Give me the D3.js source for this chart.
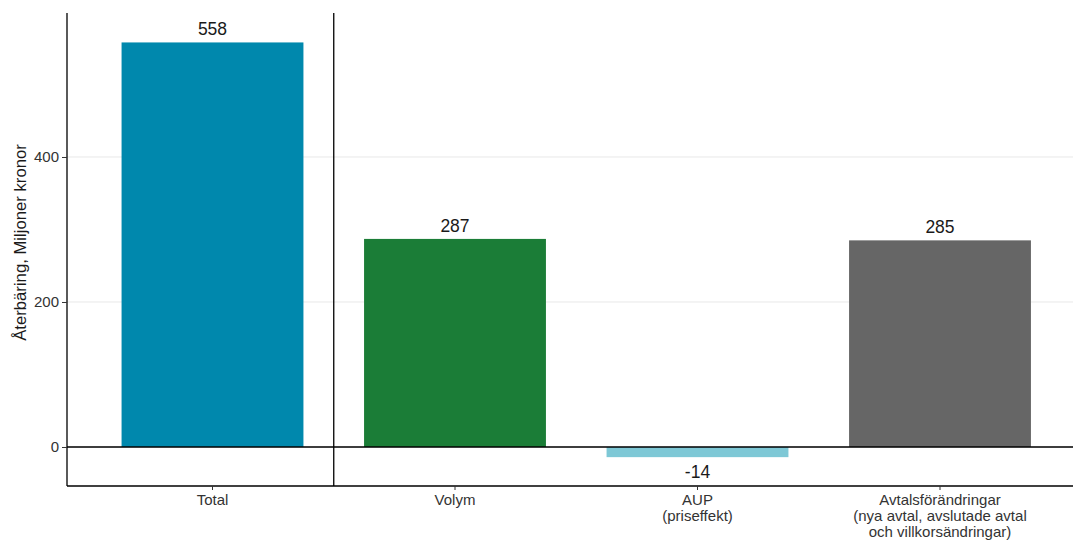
<!DOCTYPE html>
<html><head><meta charset="utf-8">
<script src="https://cdn.jsdelivr.net/npm/d3@7"></script>
<style>body{margin:0;background:#fff}svg{display:block;font-family:"Liberation Sans",Arial,sans-serif}</style>
</head><body>
<svg id="c" width="1073" height="540"></svg>
<script>
const categories = ["Total", "Volym", "AUP", "Avtals"];
const catLabels = [["Total"], ["Volym"], ["AUP", "(priseffekt)"], ["Avtalsförändringar", "(nya avtal, avslutade avtal", "och villkorsändringar)"]];
const values = [558, 287, -14, 285];
const colors = ["#0088AD", "#1B7D37", "#7EC8D6", "#666666"];
const yTicks = [0, 200, 400];
const yTitle = "Återbäring, Miljoner kronor";

const svg = d3.select("#c");
const pLeft = 67, pTop = 13, pBottom = 486, rightExt = 1085.5;
const x = d3.scaleBand().domain(categories).range([pLeft, rightExt]).paddingInner(0.25).paddingOuter(0.225);
const y = d3.scaleLinear().domain([-53.8, 598.6]).range([pBottom, pTop]);

// gridlines
svg.append("g").selectAll("line").data(yTicks).join("line")
  .attr("x1", pLeft).attr("x2", 1073).attr("y1", d => y(d)).attr("y2", d => y(d))
  .attr("stroke", "#e8e8e8").attr("stroke-width", 1);

// bars
svg.append("g").selectAll("rect").data(values).join("rect")
  .attr("x", (d, i) => x(categories[i]))
  .attr("width", x.bandwidth())
  .attr("y", d => y(Math.max(0, d)))
  .attr("height", d => Math.abs(y(d) - y(0)))
  .attr("fill", (d, i) => colors[i]);

// value labels
svg.append("g").selectAll("text").data(values).join("text")
  .attr("x", (d, i) => x(categories[i]) + x.bandwidth() / 2)
  .attr("y", d => d >= 0 ? y(d) - 7 : y(d) + 21)
  .attr("text-anchor", "middle").attr("font-size", 17.5).attr("fill", "#1a1a1a")
  .text(d => d);

// zero line
svg.append("line").attr("x1", pLeft).attr("x2", 1073).attr("y1", y(0)).attr("y2", y(0))
  .attr("stroke", "#000").attr("stroke-width", 1.3);

// separator line
const sep = (x(categories[0]) + x(categories[1]) + x.bandwidth()) / 2;
svg.append("line").attr("x1", sep).attr("x2", sep).attr("y1", pTop).attr("y2", pBottom)
  .attr("stroke", "#000").attr("stroke-width", 1.3);

// y axis
const ya = svg.append("g").attr("transform", `translate(${pLeft},0)`)
  .call(d3.axisLeft(y).tickValues(yTicks).tickSize(5).tickSizeOuter(0));
ya.select(".domain").attr("stroke", "#000").attr("stroke-width", 1.3).attr("d", `M0,${pTop}V${pBottom}`);
ya.selectAll(".tick line").attr("stroke", "#333");
ya.selectAll(".tick text").attr("font-size", 15).attr("fill", "#333").attr("font-family", "Liberation Sans, Arial, sans-serif").attr("x", -8);

// x axis
const xa = svg.append("g").attr("transform", `translate(0,${pBottom})`)
  .call(d3.axisBottom(x).tickSize(4).tickSizeOuter(0).tickFormat(""));
xa.select(".domain").attr("stroke", "#000").attr("stroke-width", 1.3).attr("d", `M${pLeft},0H1073`);
xa.selectAll(".tick line").attr("stroke", "#333");
xa.selectAll(".tick").each(function(d, i) {
  const t = d3.select(this).append("text").attr("fill", "#333").attr("font-size", 15)
    .attr("text-anchor", "middle").attr("font-family", "Liberation Sans, Arial, sans-serif");
  catLabels[i].forEach((s, j) => t.append("tspan").attr("x", 0).attr("y", 19 + j * 15.8).text(s));
});

// y title
svg.append("text").attr("transform", `translate(26,${(pTop + pBottom) / 2 - 7}) rotate(-90)`)
  .attr("text-anchor", "middle").attr("font-size", 16.7).attr("fill", "#1a1a1a").text(yTitle);
</script>
</body></html>
